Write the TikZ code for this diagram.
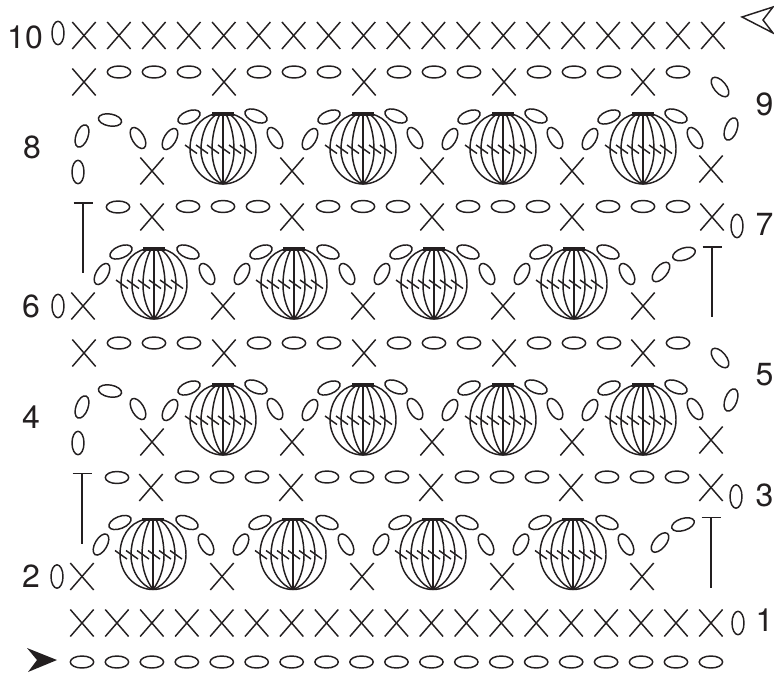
\documentclass[tikz,border=0pt]{standalone}
\usepackage{fontspec}
\setmainfont{TeX Gyre Heros}
\definecolor{yarnink}{HTML}{231F20}
\tikzset{
  rowlabel/.style={inner sep=0pt,font=\fontsize{24}{24}\selectfont},
  pics/xst/.style={code={
    \draw (-11.7,-13.5) -- (11.7,13.5);
    \draw (-11.7,13.5) -- (11.7,-13.5);
  }},
  pics/chst/.style={code={\draw (0,0) ellipse (11.7 and 6);}},
  pics/tst/.style={code={
    \draw (-9.5,0) -- (9.5,0);
    \draw (0,0) -- (0,70);
  }},
  pics/puffst/.style={code={
    \foreach \s in {-1,1} {
      \begin{scope}[xscale=\s]
        \draw (-8,0) .. controls (-24,3) and (-33,18) .. (-33,35) .. controls (-33,54) and (-18,70) .. (0,70);
        \draw (-6,0) .. controls (-16,6) and (-22,20) .. (-22,36) .. controls (-22,52) and (-12,66) .. (0,70);
        \draw (-3,0) .. controls (-8,10) and (-11,22) .. (-11,36) .. controls (-11,50) and (-6,62) .. (0,70);
      \end{scope}
    }
    \draw (0,0) -- (0,70);
    \draw[line width=2.4pt] (-11,0) -- (11,0);
    \foreach \h in {-38,-27,-16,-5,6,17}
      \draw (\h,31) -- ({\h+12},39.5);
  }},
}
\begin{document}
\begin{tikzpicture}[x=0.75pt,y=-0.75pt,line width=1.1pt,color=yarnink]
  \useasboundingbox (0,0) rectangle (774,675);
  % row numbers
  \node[rowlabel] (row10) at (25,37) {10};
  \node[rowlabel] (row9) at (764.5,104) {9};
  \node[rowlabel] (row8) at (32,147) {8};
  \node[rowlabel] (row7) at (764.5,224) {7};
  \node[rowlabel] (row6) at (31,306) {6};
  \node[rowlabel] (row5) at (764.5,375) {5};
  \node[rowlabel] (row4) at (31,417) {4};
  \node[rowlabel] (row3) at (764.5,495) {3};
  \node[rowlabel] (row2) at (31,576) {2};
  \node[rowlabel] (row1) at (764.5,620) {1};
  % start and end marks
  \fill (27,648) -- (57,660) -- (28,672) -- (37,660) -- cycle;
  \draw[line join=miter] (773,7) -- (742,17) -- (773,33) -- (763,20) -- cycle;
  % row 10
  \pic[rotate=90] at (58,33) {chst};
  \foreach \i in {0,...,18} \pic at ({84+34.94*\i},35.5) {xst};
  % foundation and row 1
  \foreach \i in {0,...,18} {
    \pic at ({82+34.94*\i},623) {xst};
    \pic at ({82+34.94*\i},662) {chst};
  }
  \pic[rotate=90] at (738,623) {chst};
  % rows 9,8 and 5,4
  \foreach \dy in {0,271} {
    \begin{scope}[shift={(0,\dy)}]
      \foreach \c in {84,224,364,504} {
        \pic at (\c,82) {xst};
        \pic at ({\c+35},72) {chst};
        \pic at ({\c+70},72) {chst};
        \pic at ({\c+105},72) {chst};
      }
      \pic at (643,82) {xst};
      \pic at (678,72) {chst};
      \pic[rotate=-50] at (720,87) {chst};
      \pic[rotate=70] at (731,129) {chst};
      \foreach \c in {223,363,503,643} {
        \pic at (\c,114) {puffst};
        \pic at ({\c-71},171) {xst};
        \pic[rotate=22] at ({\c-34},117) {chst};
        \pic[rotate=60] at ({\c-53},139) {chst};
        \pic[rotate=-22] at ({\c+33},116) {chst};
        \pic[rotate=-60] at ({\c+52},138) {chst};
      }
      \pic at (711,169) {xst};
      \pic[rotate=90] at (78,172) {chst};
      \pic[rotate=70] at (82,136) {chst};
      \pic[rotate=-10] at (110,120) {chst};
      \pic[rotate=-60] at (138,138) {chst};
    \end{scope}
  }
  % rows 7,6 and 3,2
  \foreach \dx/\dy in {0/0,-1/270.5} {
    \begin{scope}[shift={(\dx,\dy)}]
      \pic at (83,203) {tst};
      \pic at (118,207) {chst};
      \foreach \c in {152,292,432,572} {
        \pic at (\c,217) {xst};
        \pic at ({\c+36},206.5) {chst};
        \pic at ({\c+71},206.5) {chst};
        \pic at ({\c+106},206.5) {chst};
      }
      \pic at (712,217) {xst};
      \pic[rotate=90] at (737,226) {chst};
      \pic at (712,247) {tst};
      \pic[rotate=90] at (58,306) {chst};
      \foreach \c in {154,294,434,574} {
        \pic at (\c,249) {puffst};
        \pic at ({\c-71},306) {xst};
        \pic[rotate=22] at ({\c-33},252) {chst};
        \pic[rotate=60] at ({\c-52},274) {chst};
        \pic[rotate=-22] at ({\c+34},252) {chst};
        \pic[rotate=-60] at ({\c+53},274) {chst};
      }
      \pic at (643,306) {xst};
      \pic[rotate=50] at (661,272) {chst};
      \pic[rotate=18] at (684,254) {chst};
    \end{scope}
  }
\end{tikzpicture}
\end{document}
